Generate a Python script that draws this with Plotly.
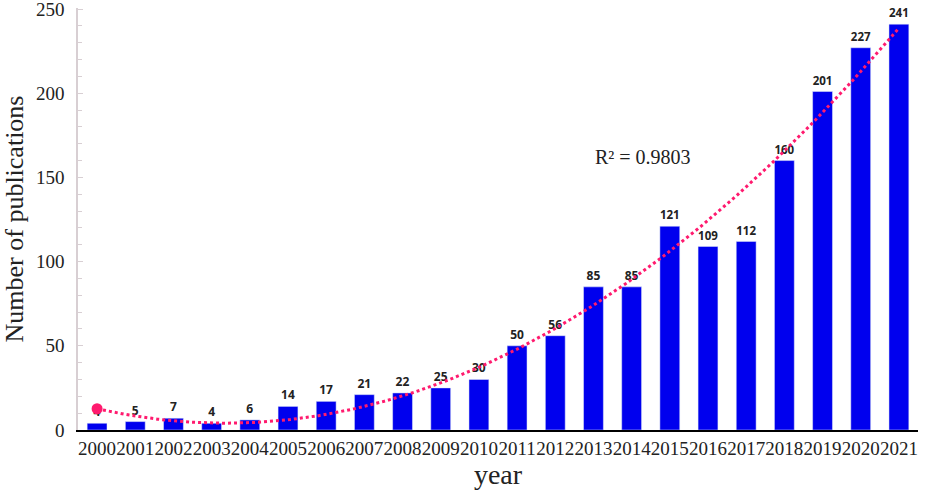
import numpy as np
import plotly.graph_objects as go

years = list(range(2000, 2022))
counts = [4, 5, 7, 4, 6, 14, 17, 21, 22, 25, 30, 50, 56, 85, 85, 121, 109, 112, 160, 201, 227, 241]
y_ticks = [0, 50, 100, 150, 200, 250]
r2_label = "R² = 0.9803"

# quadratic trendline fitted to the data
coef = np.polyfit(years, counts, 2)
xs = np.linspace(years[0], years[-1], 200)
ys = np.polyval(coef, xs)

fig = go.Figure()
fig.add_trace(go.Bar(
    x=years, y=counts, marker_color="#0000ee", width=0.52,
    text=[str(c) for c in counts], textposition="outside",
    textfont=dict(family="Open Sans", size=12, color="#222222", weight="bold"),
    cliponaxis=False, showlegend=False,
))
fig.add_trace(go.Scatter(
    x=xs, y=ys, mode="lines",
    line=dict(color="#ff1a6e", width=3, dash="dot"),
    showlegend=False,
))
fig.add_trace(go.Scatter(
    x=[years[0]], y=[np.polyval(coef, years[0])], mode="markers",
    marker=dict(color="#ff1a6e", size=11), showlegend=False,
))
fig.add_annotation(x=2014.3, y=162, text=r2_label, showarrow=False,
                   font=dict(family="Liberation Serif", size=20, color="#222222"))

fig.update_layout(
    width=927, height=495,
    margin=dict(l=78, r=9, t=8, b=65),
    paper_bgcolor="white", plot_bgcolor="white",
    font=dict(family="Liberation Serif", color="#222222"),
)
fig.update_xaxes(
    range=[1999.5, 2021.5], tickvals=years, ticktext=[str(y) for y in years],
    tickfont=dict(size=19), tickangle=0, showline=True, linecolor="black", linewidth=1.5,
    showgrid=False, ticks="", zeroline=False, automargin=False,
    title=dict(text="year", font=dict(size=28), standoff=4),
)
fig.update_yaxes(
    range=[0, 250.6], tickvals=y_ticks, tickfont=dict(size=19),
    ticklabeloverflow="allow", ticklabelstandoff=8,
    showline=True, linecolor="#d8cfd3", linewidth=1.5,
    ticks="inside", ticklen=5, tickcolor="#d8cfd3",
    minor=dict(dtick=10, ticks="inside", ticklen=4, tickcolor="#d8cfd3"),
    showgrid=False, zeroline=False, automargin=False,
    title=dict(text="Number of publications", font=dict(size=26), standoff=14),
)
fig.write_html("out.html", config={"displayModeBar": False},
               post_script="document.body.style.margin='0';")
